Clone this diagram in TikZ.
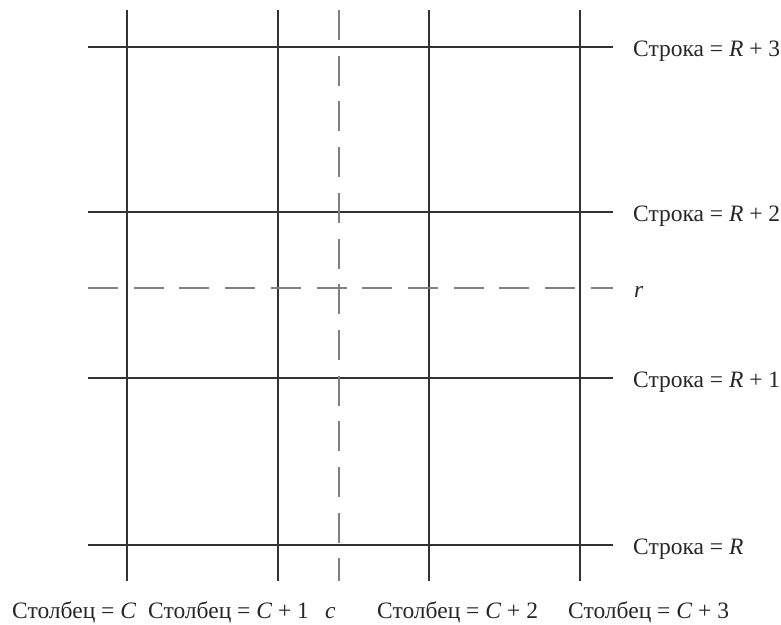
\documentclass[tikz,border=0pt]{standalone}
\usepackage{fontspec}
\setmainfont{Liberation Serif}
\usetikzlibrary{positioning}

\begin{document}
\begin{tikzpicture}[
        x=1pt, y=-1pt,
        grid line/.style={line width=1.3pt, draw=black!80},
        probe line/.style={line width=1.1pt, draw=black!50, dash pattern=on 30pt off 15.7pt},
        grid label/.style={
            anchor=base west,
            inner sep=0pt,
            text=black!85,
            font=\fontsize{23.5}{28}\selectfont
        }
    ]
        \useasboundingbox (0,0) rectangle (781,624);

        % Column line ends
        \coordinate (C0 top) at (127,10);  \coordinate (C0 bot) at (127,581);
        \coordinate (C1 top) at (278,10);  \coordinate (C1 bot) at (278,581);
        \coordinate (C2 top) at (429,10);  \coordinate (C2 bot) at (429,581);
        \coordinate (C3 top) at (580,10);  \coordinate (C3 bot) at (580,581);
        \coordinate (c top)  at (339,10);  \coordinate (c bot)  at (339,581);

        % Row line ends
        \coordinate (R0 left) at (88,545); \coordinate (R0 right) at (613,545);
        \coordinate (R1 left) at (88,378); \coordinate (R1 right) at (613,378);
        \coordinate (R2 left) at (88,212); \coordinate (R2 right) at (613,212);
        \coordinate (R3 left) at (88,47);  \coordinate (R3 right) at (613,47);
        \coordinate (r left)  at (88,288); \coordinate (r right)  at (613,288);

        % Grid
        \draw[grid line] (C0 top) -- (C0 bot);
        \draw[grid line] (C1 top) -- (C1 bot);
        \draw[grid line] (C2 top) -- (C2 bot);
        \draw[grid line] (C3 top) -- (C3 bot);
        \draw[grid line] (R0 left) -- (R0 right);
        \draw[grid line] (R1 left) -- (R1 right);
        \draw[grid line] (R2 left) -- (R2 right);
        \draw[grid line] (R3 left) -- (R3 right);

        % Sample point
        \draw[probe line] (c top) -- (c bot);
        \draw[probe line] (r left) -- (r right);

        % Row labels
        \node[grid label] (R3 label) at (633,56)  {Строка = \textit{R} + 3};
        \node[grid label] (R2 label) at (633,221) {Строка = \textit{R} + 2};
        \node[grid label] (r label)  at (634,297) {\textit{r}};
        \node[grid label] (R1 label) at (633,387) {Строка = \textit{R} + 1};
        \node[grid label] (R0 label) at (633,554) {Строка = \textit{R}};

        % Column labels
        \node[grid label] (C0 label) at (12,618)  {Столбец = \textit{C}};
        \node[grid label] (C1 label) at (148,618) {Столбец = \textit{C} + 1};
        \node[grid label] (c label)  at (325,618) {\textit{c}};
        \node[grid label] (C2 label) at (377,618) {Столбец = \textit{C} + 2};
        \node[grid label] (C3 label) at (568,618) {Столбец = \textit{C} + 3};
    \end{tikzpicture}
\end{document}
